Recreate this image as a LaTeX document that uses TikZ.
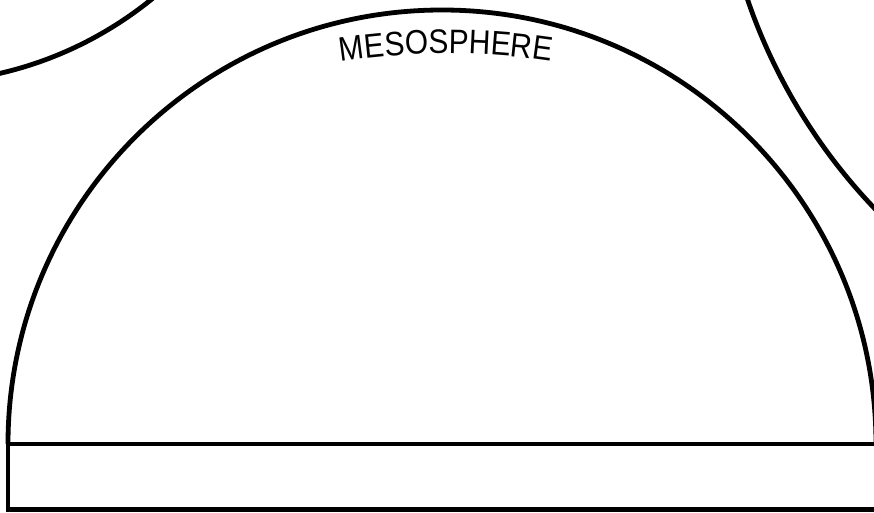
\documentclass[tikz,border=0pt]{standalone}
\usepackage{fontspec}
\newfontfamily\mesofont[FakeStretch=0.88]{Liberation Sans}
\usetikzlibrary{decorations.text}
\begin{document}
\begin{tikzpicture}[x=1pt,y=1pt,
  inkline/.style={line width=4.8pt, black, line join=miter}]
\useasboundingbox (0,0) rectangle (874,512);
\clip (0,0) rectangle (874,512);
\fill[white] (0,0) rectangle (874,512);
% side circles
\draw[inkline] (-85,805) circle[radius=376];
\draw[inkline] (1287,697) circle[radius=570];
% dome
\draw[inkline] (8,68) arc[start angle=180, end angle=0, radius=434];
\draw[inkline] (890,68) -- (8,68) -- (8,2.5) -- (890,2.5);
% label
\path[decorate, decoration={text along path,
  text={|\mesofont\fontsize{34}{34}\selectfont|MESOSPHERE}, text align=center}]
  (446,-241.5) ++(110:700) arc[start angle=110, end angle=70, radius=700];
\end{tikzpicture}
\end{document}
